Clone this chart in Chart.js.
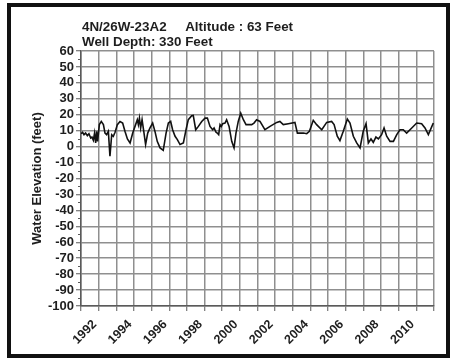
<!DOCTYPE html>
<html>
<head>
<meta charset="utf-8">
<script src="https://cdn.jsdelivr.net/npm/chart.js@4.4.1/dist/chart.umd.min.js"></script>
<style>
  html, body { margin: 0; padding: 0; background: #ffffff; }
  #wrap { position: relative; width: 454px; height: 359px; }
  canvas { display: block; }
</style>
</head>
<body>
<div id="wrap"><canvas id="c" width="454" height="359"></canvas></div>
<script>
const titleLines = ["4N/26W-23A2     Altitude : 63 Feet", "Well Depth: 330 Feet"];
const yAxisTitle = "Water Elevation (feet)";

const years = [
  1991.00, 1991.09, 1991.17, 1991.26, 1991.36, 1991.45, 1991.55, 1991.62, 1991.70, 1991.77,
  1991.83, 1991.89, 1991.94, 1992.04, 1992.15, 1992.27, 1992.36, 1992.45, 1992.55, 1992.64,
  1992.74, 1992.83, 1992.93, 1993.06, 1993.21, 1993.36, 1993.49, 1993.63, 1993.78, 1993.93,
  1994.06, 1994.19, 1994.25, 1994.31, 1994.38, 1994.46, 1994.57, 1994.66, 1994.78, 1994.91,
  1995.06, 1995.19, 1995.32, 1995.48, 1995.66, 1995.82, 1995.95, 1996.08, 1996.19, 1996.33,
  1996.46, 1996.61, 1996.80, 1996.95, 1997.08, 1997.27, 1997.36, 1997.50, 1997.65, 1997.84,
  1998.03, 1998.16, 1998.31, 1998.46, 1998.54, 1998.65, 1998.72, 1998.80, 1998.88, 1998.95,
  1999.03, 1999.16, 1999.25, 1999.39, 1999.54, 1999.67, 1999.78, 1999.91, 2000.05, 2000.20,
  2000.35, 2000.67, 2000.80, 2000.95, 2001.14, 2001.42, 2001.71, 2002.09, 2002.27, 2002.46,
  2002.75, 2003.12, 2003.26, 2003.60, 2003.79, 2003.94, 2004.16, 2004.35, 2004.64, 2004.92,
  2005.20, 2005.34, 2005.52, 2005.67, 2005.86, 2006.09, 2006.24, 2006.43, 2006.62, 2006.81,
  2006.99, 2007.15, 2007.28, 2007.43, 2007.56, 2007.71, 2007.85, 2008.03, 2008.17, 2008.32,
  2008.51, 2008.70, 2008.89, 2009.07, 2009.26, 2009.45, 2009.74, 2010.02, 2010.30, 2010.49,
  2010.68, 2010.96
];
const levels = [
  8.1, 9.0, 7.5, 8.5, 6.9, 8.1, 5.4, 6.0, 4.0, 8.5,
  2.3, 9.6, 3.3, 13.8, 15.8, 13.8, 8.5, 7.5, 9.6, -6.0,
  7.5, 6.5, 9.0, 13.8, 15.8, 14.8, 9.6, 4.8, 2.3, 8.5,
  12.7, 16.9, 13.8, 17.9, 11.7, 16.9, 8.5, 1.3, 8.5, 11.7,
  14.8, 9.6, 3.3, -0.8, -2.3, 8.5, 14.8, 15.8, 10.6, 6.5,
  4.4, 1.3, 2.3, 10.6, 16.9, 19.4, 19.6, 10.6, 12.7, 15.8,
  17.9, 17.9, 12.7, 10.6, 11.7, 9.0, 8.5, 7.5, 13.8, 12.7,
  14.4, 14.8, 16.9, 12.7, 3.3, -0.8, 8.5, 15.8, 21.0, 16.9,
  13.8, 13.8, 14.8, 16.9, 15.8, 10.6, 12.7, 15.2, 15.8, 13.8,
  14.4, 15.2, 8.5, 8.5, 8.1, 9.6, 16.5, 13.8, 10.6, 15.2,
  15.8, 13.8, 6.5, 3.8, 9.6, 17.3, 14.8, 6.5, 2.3, -0.8,
  9.6, 14.4, 2.3, 4.8, 2.7, 6.0, 4.8, 7.5, 11.7, 6.5,
  3.3, 3.3, 7.5, 10.6, 10.6, 8.5, 11.7, 14.8, 14.4, 11.7,
  7.5, 14.8
];

const X_MIN = 1991, X_MAX = 2011;
const Y_MIN = -100, Y_MAX = 60;

const TEXT = '#1e1e1e';
const GRID = '#8f8f8f';
const AXIS = '#5a5a5a';
const FONT = "'Liberation Sans', Arial, Helvetica, sans-serif";

const points = years.map((x, i) => ({ x: x, y: levels[i] }));

const extras = {
  id: 'extras',
  afterDraw(chart) {
    const ctx = chart.ctx;
    const ya = chart.scales.y;
    const area = chart.chartArea;
    ctx.save();
    // minor y ticks (short)
    ctx.strokeStyle = AXIS;
    ctx.lineWidth = 1;
    for (let v = Y_MIN + 5; v < Y_MAX; v += 10) {
      const py = Math.round(ya.getPixelForValue(v)) + 0.5;
      ctx.beginPath();
      ctx.moveTo(area.left - 3, py);
      ctx.lineTo(area.left, py);
      ctx.stroke();
    }
    // title text
    ctx.fillStyle = TEXT;
    ctx.font = "bold 13.4px " + FONT;
    ctx.textAlign = 'left';
    ctx.textBaseline = 'alphabetic';
    ctx.fillText(titleLines[0], area.left + 1, 31);
    ctx.fillText(titleLines[1], area.left + 1, 46);
    // outer frame
    ctx.strokeStyle = '#111';
    ctx.lineWidth = 4;
    ctx.strokeRect(9, 5, 439, 351);
    ctx.restore();
  }
};

new Chart(document.getElementById('c'), {
  type: 'line',
  data: {
    datasets: [{
      data: points,
      borderColor: '#111',
      borderWidth: 1.6,
      pointRadius: 0,
      tension: 0,
      fill: false
    }]
  },
  options: {
    responsive: false,
    animation: false,
    devicePixelRatio: 1,
    layout: { padding: { left: 26, right: 20, top: 51, bottom: 0 } },
    plugins: {
      legend: { display: false },
      tooltip: { enabled: false },
      title: { display: false }
    },
    scales: {
      x: {
        type: 'linear',
        min: X_MIN,
        max: X_MAX,
        afterFit(s) { s.height = 53; },
        afterBuildTicks(s) {
          const t = [];
          for (let v = X_MIN; v <= X_MAX; v++) t.push({ value: v });
          s.ticks = t;
        },
        ticks: {
          autoSkip: false,
          maxRotation: 45,
          minRotation: 45,
          padding: 6,
          labelOffset: -4,
          color: TEXT,
          font: { family: FONT, size: 12.5, weight: 'bold' },
          callback: (v) => (v % 2 === 0 ? String(v) : '')
        },
        grid: { color: GRID, lineWidth: 1.5, tickColor: AXIS, tickLength: 5, tickWidth: 1 },
        border: { color: AXIS, width: 1.5 }
      },
      y: {
        min: Y_MIN,
        max: Y_MAX,
        afterFit(s) { s.width = 81 - 26; },
        ticks: {
          stepSize: 10,
          autoSkip: false,
          padding: 2,
          color: TEXT,
          font: { family: FONT, size: 13, weight: 'bold' }
        },
        grid: { color: GRID, lineWidth: 1.5, tickColor: AXIS, tickLength: 5, tickWidth: 1 },
        border: { color: AXIS, width: 1.5 },
        title: {
          display: true,
          text: yAxisTitle,
          color: TEXT,
          font: { family: FONT, size: 13, weight: 'bold' },
          padding: { top: 4, bottom: 0 }
        }
      }
    }
  },
  plugins: [extras]
});
</script>
</body>
</html>
